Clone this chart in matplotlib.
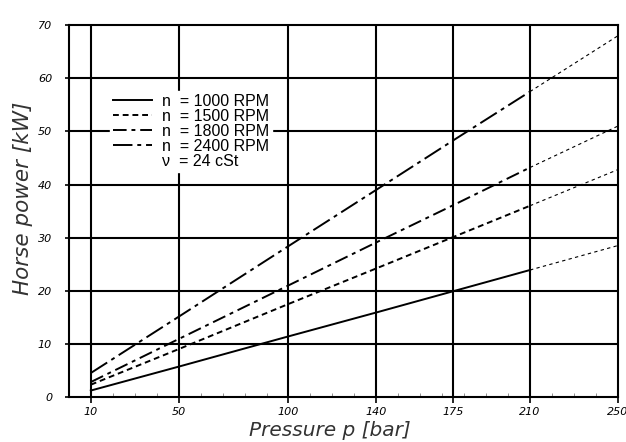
import numpy as np
import matplotlib.pyplot as plt
from matplotlib.lines import Line2D

# pressure points [bar] (rated range) and extension to max pressure
pressure = [10, 50, 100, 140, 175, 210]
pressure_ext = [210, 250]

# horse power [kW]
hp_1000 = [1.2, 5.7, 11.4, 15.9, 19.9, 23.9]
hp_1500 = [2.3, 9.0, 17.5, 24.2, 30.1, 36.0]
hp_1800 = [2.8, 10.9, 21.0, 29.1, 36.1, 43.2]
hp_2400 = [4.5, 15.1, 28.4, 39.0, 48.3, 57.5]

ext_1000 = [23.9, 28.5]
ext_1500 = [36.0, 42.8]
ext_1800 = [43.2, 51.0]
ext_2400 = [57.5, 68.0]

labels = ["n  = 1000 RPM", "n  = 1500 RPM", "n  = 1800 RPM", "n  = 2400 RPM"]
x_ticks = [10, 50, 100, 140, 175, 210, 250]
y_ticks = [0, 10, 20, 30, 40, 50, 60, 70]

styles = [
    dict(linestyle="-"),
    dict(dashes=(3, 2)),
    dict(dashes=(7, 2.5, 2, 2.5)),
    dict(dashes=(10, 2.5, 2, 2.5)),
]

fig = plt.figure(figsize=(6.26, 4.42), dpi=100)
ax = fig.add_axes([0.110, 0.102, 0.877, 0.841])

# grid
for xv in x_ticks[:-1]:
    ax.axvline(xv, color="black", lw=1.5, zorder=1)
for yv in y_ticks[1:-1]:
    ax.axhline(yv, color="black", lw=1.5, zorder=1)

series = [hp_1000, hp_1500, hp_1800, hp_2400]
exts = [ext_1000, ext_1500, ext_1800, ext_2400]
handles = []
for vals, ext, st in zip(series, exts, styles):
    ax.plot(pressure, vals, color="black", lw=1.4, zorder=3, **st)
    ax.plot(pressure_ext, ext, color="black", lw=0.8, dashes=(3, 3), zorder=3)
    handles.append(Line2D([], [], color="black", lw=1.4, **st))
handles.append(Line2D([], [], color="none"))
leg = ax.legend(handles, labels + ["\u03bd  = 24 cSt"], loc="upper left",
                bbox_to_anchor=(0.075, 0.824), frameon=True,
                prop={"family": "Liberation Sans", "size": 11.5},
                handlelength=2.45, handletextpad=0.6, labelspacing=0.0,
                borderpad=0.2, borderaxespad=0, fancybox=False)
leg.get_frame().set_edgecolor("white")
leg.get_frame().set_facecolor("white")
leg.get_frame().set_alpha(1)
leg.set_zorder(5)

ax.set_xlim(0, 250)
ax.set_ylim(0, 70)
ax.set_xticks(x_ticks)
ax.set_xticks(np.arange(10, 250, 10), minor=True)
ax.set_yticks(y_ticks)
ax.tick_params(axis="both", which="major", labelsize=8, length=4, width=1.2)
ax.tick_params(axis="y", which="major", length=3, pad=9)
ax.tick_params(axis="x", which="minor", direction="in", length=3, width=0.6, color="gray")
for lab in ax.get_xticklabels() + ax.get_yticklabels():
    lab.set_fontstyle("italic")

for sp in ax.spines.values():
    sp.set_linewidth(1.5)

ax.set_xlabel("Pressure p [bar]", fontsize=14.5, fontstyle="italic", color="#333333")
ax.set_ylabel("Horse power [kW]", fontsize=15.5, fontstyle="italic", color="#333333")
ax.xaxis.set_label_coords(0.475, -0.064)
ax.yaxis.set_label_coords(-0.066, 0.534)

fig.savefig("out.png", dpi=100)
